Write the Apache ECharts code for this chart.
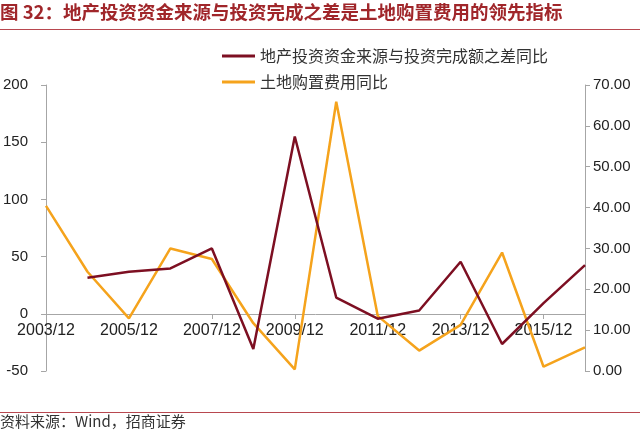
<!DOCTYPE html>
<html>
<head>
<meta charset="utf-8">
<script src="https://cdn.jsdelivr.net/npm/echarts@6/dist/echarts.min.js"></script>
<style>
  html, body { margin: 0; padding: 0; background: #fff; }
  #chart { width: 640px; height: 431px; }
</style>
</head>
<body>
<div id="chart"></div>
<script>
    'use strict'

    // 年度类目
    var years = ['2003/12', '2004/12', '2005/12', '2006/12', '2007/12', '2008/12', '2009/12',
                 '2010/12', '2011/12', '2012/12', '2013/12', '2014/12', '2015/12', '2016/12'];
    // 地产投资资金来源与投资完成额之差同比 (左轴)
    var gapYoY = [null, 31.6, 36.8, 39.7, 57.1, -30.7, 155, 14.2, -4.3, 2.9, 45.5, -26.4, 9.3, 42.6];
    // 土地购置费用同比 (右轴)
    var landYoY = [40.4, 24.3, 12.9, 30.0, 27.4, 11.7, 0.4, 65.9, 13.5, 5.0, 11.3, 29.0, 1.05, 5.8];

    var leftTicks = { min: -50, max: 200, interval: 50 };
    var rightTicks = { min: 0, max: 70, interval: 10 };

    var numFont = 'Liberation Sans, Arial, sans-serif';
    var cjkFont = 'Noto Sans CJK SC, sans-serif';
    var axisGray = '#a6a6a6';

    var myChart = echarts.init(document.getElementById('chart'));
    var option = {
        animation: false,
        backgroundColor: '#fff',
        title: [{
            text: '图 32：地产投资资金来源与投资完成之差是土地购置费用的领先指标',
            left: 0,
            top: 3,
            padding: 0,
            textStyle: {
                color: '#a0262a',
                fontSize: 18.5,
                fontWeight: 'bold',
                fontFamily: cjkFont
            }
        }, {
            text: '资料来源：Wind，招商证券',
            left: 0,
            top: 414,
            padding: 0,
            textStyle: {
                color: '#333',
                fontSize: 15,
                fontWeight: 'normal',
                fontFamily: cjkFont
            }
        }],
        graphic: [{
            type: 'line',
            shape: { x1: 0, y1: 29.5, x2: 640, y2: 29.5 },
            style: { stroke: '#b8474f', lineWidth: 1 }
        }, {
            type: 'line',
            shape: { x1: 0, y1: 412.5, x2: 640, y2: 412.5 },
            style: { stroke: '#b8474f', lineWidth: 1 }
        }],
        legend: {
            orient: 'vertical',
            left: 222,
            top: 48,
            padding: 0,
            itemGap: 10,
            itemWidth: 33,
            itemHeight: 3,
            icon: 'rect',
            textStyle: {
                color: '#333',
                fontSize: 16,
                fontFamily: cjkFont
            },
            data: ['地产投资资金来源与投资完成额之差同比', '土地购置费用同比']
        },
        grid: {
            left: 45,
            right: 55,
            top: 85,
            bottom: 60,
            containLabel: false
        },
        xAxis: {
            type: 'category',
            boundaryGap: false,
            data: years,
            // 横轴放在左轴 0 的位置
            offset: -57,
            axisLine: { onZero: false, lineStyle: { color: axisGray, width: 1 } },
            axisTick: { interval: 1, length: 5, lineStyle: { color: axisGray } },
            axisLabel: {
                interval: 1,
                margin: 9,
                color: '#222',
                fontSize: 16,
                fontFamily: numFont
            },
            splitLine: { show: false }
        },
        yAxis: [{
            type: 'value',
            min: leftTicks.min,
            max: leftTicks.max,
            interval: leftTicks.interval,
            axisLine: { show: true, lineStyle: { color: axisGray } },
            axisTick: { show: true, length: 5, lineStyle: { color: axisGray } },
            axisLabel: {
                margin: 18,
                color: '#222',
                fontSize: 15,
                fontFamily: numFont
            },
            splitLine: { show: false }
        }, {
            type: 'value',
            position: 'right',
            min: rightTicks.min,
            max: rightTicks.max,
            interval: rightTicks.interval,
            axisLine: { show: true, lineStyle: { color: axisGray } },
            axisTick: { show: true, length: 5, lineStyle: { color: axisGray } },
            axisLabel: {
                margin: 8,
                color: '#222',
                fontSize: 15,
                fontFamily: numFont,
                formatter: function (v) { return v.toFixed(2); }
            },
            splitLine: { show: false }
        }],
        series: [{
            name: '地产投资资金来源与投资完成额之差同比',
            type: 'line',
            yAxisIndex: 0,
            data: gapYoY,
            symbol: 'none',
            smooth: false,
            itemStyle: { color: '#7d0f22' },
            lineStyle: { color: '#7d0f22', width: 2.5 },
            z: 3
        }, {
            name: '土地购置费用同比',
            type: 'line',
            yAxisIndex: 1,
            data: landYoY,
            symbol: 'none',
            smooth: false,
            itemStyle: { color: '#f5a31c' },
            lineStyle: { color: '#f5a31c', width: 2.5 },
            z: 2
        }]
    };
    myChart.setOption(option);
</script>
</body>
</html>
